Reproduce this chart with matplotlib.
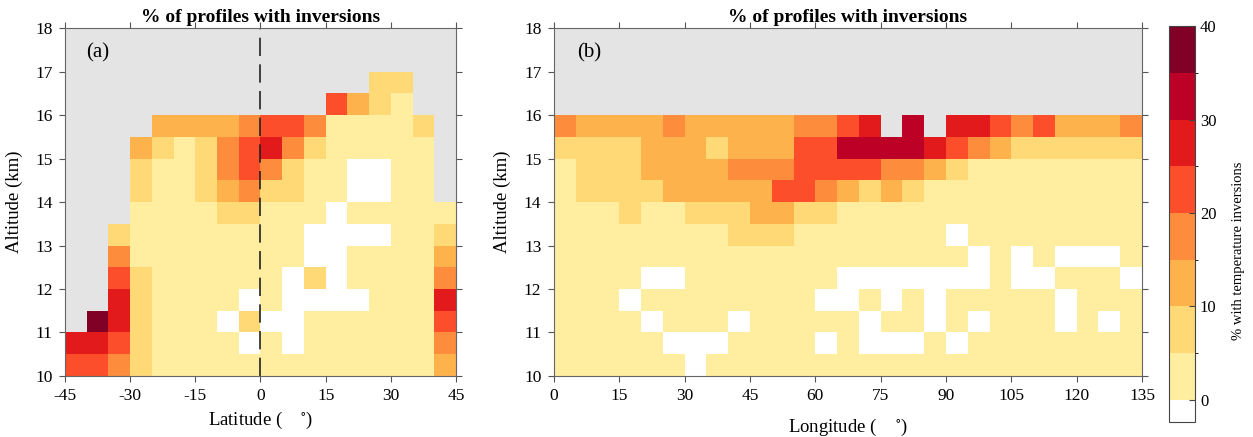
import numpy as np
import matplotlib
matplotlib.use("Agg")
import matplotlib.pyplot as plt
from matplotlib.colors import ListedColormap, BoundaryNorm

plt.rcParams['font.family'] = ['Liberation Serif', 'DejaVu Serif']
plt.rcParams['mathtext.fontset'] = 'stix'
plt.rcParams['axes.unicode_minus'] = False

nan = np.nan

## grid edges
lat_edges = np.arange(-45, 46, 5)
lon_edges = np.arange(0, 136, 5)
alt_edges = np.arange(10, 18.01, 0.5)

## % of profiles with inversions, panel (a), rows from 10 km upward, lat -45..45
lat_pct = [
    [22, 22, 17, 8, 3, 3, 3, 3, 3, 3, 3, 3, 3, 3, 3, 3, 3, 12],
    [27, 27, 22, 8, 3, 3, 3, 3, 0, 3, 0, 3, 3, 3, 3, 3, 3, 17],
    [nan, 38, 27, 8, 3, 3, 3, 0, 8, 0, 0, 3, 3, 3, 3, 3, 3, 22],
    [nan, nan, 27, 8, 3, 3, 3, 3, 0, 3, 0, 0, 0, 0, 3, 3, 3, 27],
    [nan, nan, 22, 8, 3, 3, 3, 3, 3, 3, 0, 8, 0, 3, 3, 3, 3, 17],
    [nan, nan, 17, 3, 3, 3, 3, 3, 3, 3, 3, 0, 0, 3, 3, 3, 3, 12],
    [nan, nan, 8, 3, 3, 3, 3, 3, 3, 3, 3, 0, 0, 0, 0, 3, 3, 8],
    [nan, nan, nan, 3, 3, 3, 3, 8, 8, 3, 3, 3, 0, 3, 3, 3, 3, 3],
    [nan, nan, nan, 8, 3, 3, 8, 12, 17, 8, 8, 3, 3, 0, 0, 3, 3, nan],
    [nan, nan, nan, 8, 3, 3, 8, 17, 22, 17, 8, 3, 3, 0, 0, 3, 3, nan],
    [nan, nan, nan, 12, 8, 3, 8, 17, 22, 27, 17, 8, 3, 3, 3, 3, 3, nan],
    [nan, nan, nan, nan, 12, 12, 12, 12, 17, 22, 22, 17, 3, 3, 3, 3, 8, nan],
    [nan]*12 + [22, 12, 8, 3, nan, nan],
    [nan]*14 + [8, 8, nan, nan],
    [nan]*18,
    [nan]*18,
]

## panel (b), rows from 10 km upward, lon 0..135
lon_pct = [
    [3, 3, 3, 3, 3, 3, 0, 3, 3, 3, 3, 3, 3, 3, 3, 3, 3, 3, 3, 3, 3, 3, 3, 3, 3, 3, 3],
    [3, 3, 3, 3, 3, 0, 0, 0, 3, 3, 3, 3, 0, 3, 0, 0, 0, 3, 0, 3, 3, 3, 3, 3, 3, 3, 3],
    [3, 3, 3, 3, 0, 3, 3, 3, 0, 3, 3, 3, 3, 3, 0, 3, 3, 0, 3, 0, 3, 3, 3, 0, 3, 0, 3],
    [3, 3, 3, 0, 3, 3, 3, 3, 3, 3, 3, 3, 0, 0, 3, 0, 3, 0, 3, 3, 3, 3, 3, 0, 3, 3, 3],
    [3, 3, 3, 3, 0, 0, 3, 3, 3, 3, 3, 3, 3, 0, 0, 0, 0, 0, 0, 0, 3, 0, 0, 3, 3, 3, 0],
    [3, 3, 3, 3, 3, 3, 3, 3, 3, 3, 3, 3, 3, 3, 3, 3, 3, 3, 3, 0, 3, 0, 3, 0, 0, 0, 3],
    [3, 3, 3, 3, 3, 3, 3, 3, 8, 8, 8, 3, 3, 3, 3, 3, 3, 3, 0, 3, 3, 3, 3, 3, 3, 3, 3],
    [3, 3, 3, 8, 3, 3, 8, 8, 8, 12, 12, 8, 8, 3, 3, 3, 3, 3, 3, 3, 3, 3, 3, 3, 3, 3, 3],
    [3, 8, 8, 8, 8, 12, 12, 12, 12, 12, 22, 22, 17, 12, 8, 12, 8, 3, 3, 3, 3, 3, 3, 3, 3, 3, 3],
    [3, 8, 8, 8, 12, 12, 12, 12, 17, 17, 17, 22, 22, 22, 22, 17, 17, 12, 8, 3, 3, 3, 3, 3, 3, 3, 3],
    [8, 8, 8, 8, 12, 12, 12, 8, 12, 12, 12, 22, 22, 32, 32, 32, 32, 27, 22, 17, 12, 8, 8, 8, 8, 8, 8],
    [17, 12, 12, 12, 12, 17, 12, 12, 12, 12, 12, 17, 17, 22, 27, nan, 32, nan, 27, 27, 22, 17, 22, 12, 12, 12, 17],
    [nan]*27,
    [nan]*27,
    [nan]*27,
    [nan]*27,
]

## colour classes
levels = [0, 5, 10, 15, 20, 25, 30, 35, 40]
colors = ['#ffeda0', '#fed976', '#feb24c', '#fd8d3c',
          '#fc4e2a', '#e31a1c', '#bd0026', '#800026']
cmap = ListedColormap(colors)
cmap.set_under('white')
norm = BoundaryNorm(levels, len(colors))


def prep(vals):
    z = np.array(vals, dtype=float)
    ## cells with no inversions go to the "under" colour
    z = np.where(z == 0, -1, z)
    return np.ma.masked_invalid(z)


def style_axes(ax):
    ax.set_facecolor('#e4e4e4')
    for s in ax.spines.values():
        s.set_color('#666666')
        s.set_linewidth(0.8)
    ax.tick_params(direction='out', length=4, width=0.8, color='#555555',
                   labelsize=12.5, top=True, right=True, pad=5)
    ax.set_yticks(np.arange(10, 19, 1))
    ax.set_ylim(10, 18)
    ax.set_ylabel('Altitude (km)', fontsize=13.5, labelpad=9)
    ax.set_title('% of profiles with inversions', fontsize=14,
                 fontweight='bold', pad=4)


fig = plt.figure(figsize=(12.53, 4.37), dpi=100)
ax1 = fig.add_axes([0.0519, 0.1396, 0.312, 0.7963])
ax2 = fig.add_axes([0.4421, 0.1396, 0.4693, 0.7963])
cax = fig.add_axes([0.933, 0.034, 0.0208, 0.906])

## panel (a)
m = ax1.pcolormesh(lat_edges, alt_edges, prep(lat_pct), cmap=cmap, norm=norm)
ax1.axvline(0, color='#222222', linestyle=(0, (11, 5)), linewidth=1.2)
style_axes(ax1)
ax1.set_xlim(-45, 45)
ax1.set_xticks(np.arange(-45, 46, 15))
ax1.set_xlabel(r'Latitude (    $^{\circ}$)', fontsize=13.5, labelpad=4)
ax1.text(0.055, 0.93, '(a)', transform=ax1.transAxes, fontsize=15, va='center')

## panel (b)
ax2.pcolormesh(lon_edges, alt_edges, prep(lon_pct), cmap=cmap, norm=norm)
style_axes(ax2)
ax2.set_xlim(0, 135)
ax2.set_xticks(np.arange(0, 136, 15))
ax2.set_xlabel(r'Longitude (    $^{\circ}$)', fontsize=13.5, labelpad=9)
ax2.text(0.04, 0.93, '(b)', transform=ax2.transAxes, fontsize=15, va='center')

## colorbar
cb = fig.colorbar(m, cax=cax, extend='min', extendrect=True, extendfrac=0.06,
                  ticks=[0, 10, 20, 30, 40])
cb.outline.set_edgecolor('#444444')
cb.outline.set_linewidth(0.8)
cax.tick_params(direction='in', length=4, labelsize=12, color='#444444')
cb.set_label('% with temperature inversions', fontsize=10.5)
cax.yaxis.set_label_coords(2.4, 0.4)

plt.savefig('out.png', dpi=100)
